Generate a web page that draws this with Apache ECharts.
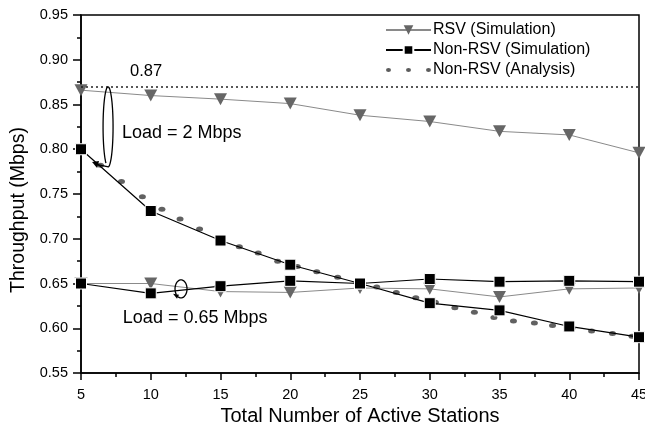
<!DOCTYPE html>
<html>
<head>
<meta charset="utf-8">
<script src="https://cdn.jsdelivr.net/npm/echarts@6/dist/echarts.min.js"></script>
<style>
  html, body { margin: 0; padding: 0; background: #fff; }
  #chart { width: 645px; height: 428px; }
</style>
</head>
<body>
<div id="chart"></div>
<script>
// Number of active stations (x positions of the simulation runs)
const stations = [5, 10, 15, 20, 25, 30, 35, 40, 45];

// Load = 2 Mbps
const rsvSimHigh    = [0.866, 0.860, 0.856, 0.851, 0.838, 0.831, 0.820, 0.816, 0.796];
const nonRsvSimHigh = [0.800, 0.731, 0.698, 0.671, 0.650, 0.628, 0.620, 0.602, 0.590];

// Load = 0.65 Mbps
const rsvSimLow    = [0.650, 0.650, 0.641, 0.640, 0.645, 0.644, 0.635, 0.644, 0.645];
const nonRsvSimLow = [0.650, 0.639, 0.647, 0.653, 0.650, 0.655, 0.652, 0.653, 0.652];

// Analytical model (Non-RSV, load = 2 Mbps)
const analysisX = [5.15, 6.4, 7.9, 9.4, 10.8, 12.1, 13.5, 15.05, 16.35, 17.7, 19.1, 20.5, 21.9, 23.4, 24.8,
                   26.2, 27.6, 29.0, 30.4, 31.8, 33.2, 34.6, 36.0, 37.5, 38.8, 40.2, 41.6, 43.1, 44.5];
const analysisY = [0.799, 0.782, 0.764, 0.747, 0.733, 0.722, 0.711, 0.699, 0.691, 0.684, 0.675, 0.669, 0.663, 0.657, 0.650,
                   0.646, 0.640, 0.634, 0.629, 0.623, 0.618, 0.612, 0.608, 0.606, 0.603, 0.600, 0.597, 0.594, 0.591];

// Saturation throughput level
const refLevel = 0.87;

const pairs = (xs, ys) => xs.map((x, i) => [x, ys[i]]);

const FONT = '"Liberation Sans", Arial, Helvetica, sans-serif';
const NAME_RSV = 'RSV (Simulation)';
const NAME_NON = 'Non-RSV (Simulation)';
const NAME_ANA = 'Non-RSV (Analysis)';

const rsvStyle = {
  type: 'line',
  name: NAME_RSV,
  symbol: 'triangle',
  symbolRotate: 180,
  symbolSize: [13, 12],
  itemStyle: { color: '#666666' },
  lineStyle: { color: '#8a8a8a', width: 1 },
  z: 3
};
const nonStyle = {
  type: 'line',
  name: NAME_NON,
  symbol: 'rect',
  symbolSize: 11,
  itemStyle: { color: '#000', borderColor: '#fff', borderWidth: 1 },
  lineStyle: { color: '#000', width: 1.2 },
  z: 4
};

// three dots for the analysis legend key
const dot = cx => `M${cx - 2.5},2 A2.5,2 0 1,0 ${cx + 2.5},2 A2.5,2 0 1,0 ${cx - 2.5},2 Z`;
const dotsIcon = 'path://' + [2.5, 22.5, 42.5].map(dot).join(' ');

const chart = echarts.init(document.getElementById('chart'), null, { renderer: 'canvas' });

chart.setOption({
  animation: false,
  backgroundColor: '#fff',
  textStyle: { fontFamily: FONT },
  grid: {
    left: 81, right: 6, top: 15, bottom: 55,
    outerBoundsMode: 'none',
    containLabel: false,
    show: true, borderColor: '#000', borderWidth: 1.5, backgroundColor: 'transparent'
  },
  legend: {
    orient: 'vertical',
    left: 380,
    top: 17,
    itemWidth: 45,
    itemHeight: 12,
    itemGap: 4,
    symbolKeepAspect: true,
    textStyle: { fontFamily: FONT, fontSize: 16, color: '#000', padding: [0, 0, 0, -3] },
    data: [
      { name: NAME_RSV },
      { name: NAME_NON },
      { name: NAME_ANA, icon: dotsIcon, itemStyle: { color: '#333' } }
    ],
    selectedMode: false
  },
  xAxis: {
    type: 'value',
    min: 5, max: 45, interval: 5,
    name: 'Total Number of Active Stations',
    nameLocation: 'middle',
    nameGap: 32,
    nameTextStyle: { fontFamily: FONT, fontSize: 20, color: '#000' },
    axisLine: { onZero: false, lineStyle: { color: '#000', width: 1.5 } },
    axisTick: { inside: false, length: 7, lineStyle: { color: '#000', width: 1.5 } },
    minorTick: { show: true, splitNumber: 2, length: 4, lineStyle: { color: '#000', width: 1.5 } },
    axisLabel: { fontFamily: FONT, fontSize: 14.5, color: '#000', margin: 14, hideOverlap: false },
    splitLine: { show: false }
  },
  yAxis: {
    type: 'value',
    min: 0.55, max: 0.95, interval: 0.05,
    name: 'Throughput (Mbps)',
    nameLocation: 'middle',
    nameGap: 52,
    nameTextStyle: { fontFamily: FONT, fontSize: 19.5, color: '#000', padding: [0, 32, 0, 0] },
    axisLine: { onZero: false, lineStyle: { color: '#000', width: 1.5 } },
    axisTick: { inside: false, length: 8, lineStyle: { color: '#000', width: 1.5 } },
    minorTick: { show: true, splitNumber: 2, length: 4, lineStyle: { color: '#000', width: 1.5 } },
    axisLabel: { fontFamily: FONT, fontSize: 14.5, color: '#000', margin: 13, formatter: v => v.toFixed(2) },
    splitLine: { show: false }
  },
  series: [
    {
      type: 'scatter',
      name: NAME_ANA,
      symbol: 'circle',
      symbolSize: [7, 5],
      itemStyle: { color: '#3a3a3a' },
      data: pairs(analysisX, analysisY),
      z: 2,
      markLine: {
        silent: true,
        symbol: 'none',
        label: { show: false },
        lineStyle: { color: '#222', type: [2, 3], width: 1.5 },
        data: [{ yAxis: refLevel }]
      }
    },
    Object.assign({}, rsvStyle, { data: pairs(stations, rsvSimHigh) }),
    Object.assign({}, nonStyle, { data: pairs(stations, nonRsvSimHigh) }),
    Object.assign({}, rsvStyle, { data: pairs(stations, rsvSimLow) }),
    Object.assign({}, nonStyle, { data: pairs(stations, nonRsvSimLow) })
  ]
});

// Annotations placed from data-space anchors
const px = (x, y) => chart.convertToPixel({ gridIndex: 0 }, [x, y]);
const textEl = (pos, text, size, align) => ({
  type: 'text',
  x: pos[0], y: pos[1],
  style: { text, fontFamily: FONT, fontSize: size, fill: '#000', align, verticalAlign: 'middle' },
  z: 10
});

// open elliptical loop (y grows downward), angles in degrees, plus a short tail
function loopPoints(rx, ry, fromDeg, toDeg, tail) {
  const pts = [];
  const n = 60;
  for (let i = 0; i <= n; i++) {
    const t = (fromDeg + (toDeg - fromDeg) * i / n) * Math.PI / 180;
    pts.push([rx * Math.cos(t), ry * Math.sin(t)]);
  }
  return pts.concat(tail);
}

const levelPos = px(9.66, refLevel);
const highPos = px(7.94, 0.818);
const lowPos = px(8.0, 0.611);
const bigLoop = px(6.94, 0.825);
const smallLoop = px(12.17, 0.644);

chart.setOption({
  graphic: [
    textEl([levelPos[0], levelPos[1] - 15], refLevel.toFixed(2), 16.5, 'center'),
    textEl(highPos, 'Load = 2 Mbps', 18, 'left'),
    textEl(lowPos, 'Load = 0.65 Mbps', 18, 'left'),
    {
      type: 'polyline',
      x: bigLoop[0], y: bigLoop[1],
      shape: { points: loopPoints(5, 40, 115, 450, [[-4, 39], [-10, 38]]), smooth: 0.2 },
      style: { stroke: '#000', lineWidth: 1.3, fill: null },
      z: 10
    },
    {
      type: 'polygon',
      x: bigLoop[0], y: bigLoop[1],
      shape: { points: [[-16, 35], [-9, 34], [-11, 41]] },
      style: { fill: '#000' },
      z: 10
    },
    {
      type: 'polyline',
      x: smallLoop[0], y: smallLoop[1],
      shape: { points: loopPoints(6, 9, 140, 470, [[-3, 8]]), smooth: 0.2 },
      style: { stroke: '#000', lineWidth: 1.3, fill: null },
      z: 10
    },
    {
      type: 'polygon',
      x: smallLoop[0], y: smallLoop[1],
      shape: { points: [[-8, 5], [-2, 6], [-4, 10]] },
      style: { fill: '#000' },
      z: 10
    }
  ]
});
</script>
</body>
</html>
